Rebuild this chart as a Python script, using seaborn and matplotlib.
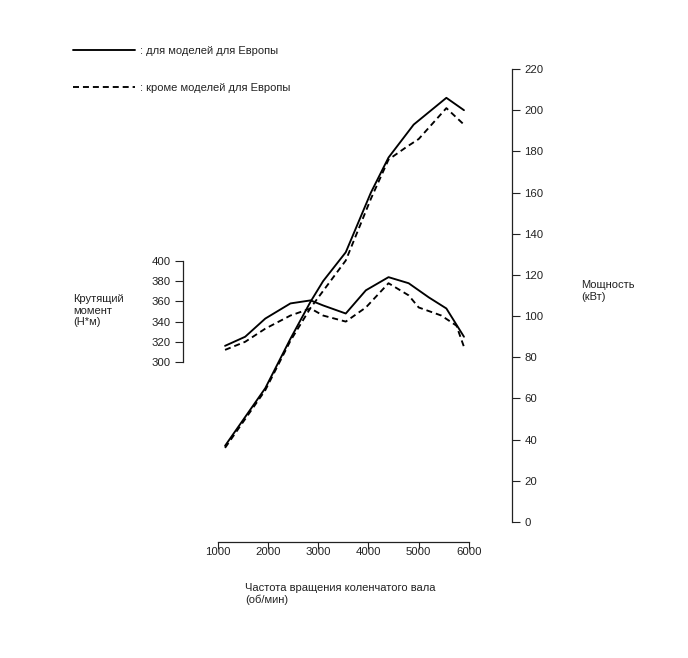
import matplotlib
matplotlib.use("Agg")
import matplotlib.pyplot as plt
import seaborn as sns
import pandas as pd

sns.set_theme(style="white")
plt.rcParams['font.family'] = ['Liberation Sans', 'DejaVu Sans']

# ---- data ----
torque_eu_rpm = [1150, 1550, 1950, 2450, 2850, 3100, 3550, 3950, 4400, 4800, 5200, 5550, 5900]
torque_eu_nm = [316, 325, 343, 358, 361, 356, 348, 371, 384, 378, 364, 353, 325]

torque_other_rpm = [1150, 1550, 1950, 2450, 2850, 3100, 3550, 3950, 4400, 4800, 5000, 5450, 5750, 5900]
torque_other_nm = [312, 320, 333, 346, 353, 346, 340, 354, 378, 366, 354, 346, 336, 315]

power_eu_rpm = [1150, 1950, 2450, 2850, 3100, 3550, 4050, 4400, 4900, 5550, 5900]
power_eu_kw = [37, 65, 89, 107, 117, 131, 160, 177, 193, 206, 200]

power_other_rpm = [1150, 1950, 2450, 2850, 3550, 4050, 4400, 4750, 5000, 5550, 5900]
power_other_kw = [36, 64, 88, 104, 127, 157, 176, 182, 186, 201, 193]

x_ticks = [1000, 2000, 3000, 4000, 5000, 6000]
torque_ticks = [300, 320, 340, 360, 380, 400]
power_ticks = [0, 20, 40, 60, 80, 100, 120, 140, 160, 180, 200, 220]

label_eu = ": для моделей для Европы"
label_other = ": кроме моделей для Европы"
torque_title = "Крутящий\nмомент\n(Н*м)"
power_title = "Мощность\n(кВт)"
x_title = "Частота вращения коленчатого вала\n(об/мин)"

# ---- figure ----
W, H = 688, 658
fig = plt.figure(figsize=(W / 100, H / 100), dpi=100)
fig.patch.set_facecolor("white")

left_px, right_px, top_px, bottom_px = 183, 512, 69, 542
ax = fig.add_axes([left_px / W, 1 - bottom_px / H,
                   (right_px - left_px) / W, (bottom_px - top_px) / H])
ax.set_facecolor("none")
ax2 = ax.twinx()
ax2.set_facecolor("none")

lw = 1.35
dash = (3.2, 2.1)

d1 = pd.DataFrame({"rpm": torque_eu_rpm, "val": torque_eu_nm})
d2 = pd.DataFrame({"rpm": torque_other_rpm, "val": torque_other_nm})
d3 = pd.DataFrame({"rpm": power_eu_rpm, "val": power_eu_kw})
d4 = pd.DataFrame({"rpm": power_other_rpm, "val": power_other_kw})

sns.lineplot(data=d1, x="rpm", y="val", ax=ax, color="black", lw=lw, legend=False)
sns.lineplot(data=d2, x="rpm", y="val", ax=ax, color="black", lw=lw,
             legend=False, linestyle=(0, dash))
sns.lineplot(data=d3, x="rpm", y="val", ax=ax2, color="black", lw=lw, legend=False)
sns.lineplot(data=d4, x="rpm", y="val", ax=ax2, color="black", lw=lw,
             legend=False, linestyle=(0, dash))

# x scale: 1000 rpm at 217.5 px, 6000 at 469 px
ppx = (469 - 217.5) / 5000.0
ax.set_xlim(1000 - (217.5 - left_px) / ppx, 1000 + (right_px - 217.5) / ppx)
# torque scale: 400 at 261, 300 at 362
ppt = (362 - 261) / 100.0
ax.set_ylim(400 - (bottom_px - 261) / ppt, 400 + (261 - top_px) / ppt)
# power scale: 220 at 69, 0 at 522
ppk = (522 - 69) / 220.0
ax2.set_ylim(0 - (bottom_px - 522) / ppk, 220 + (69 - top_px) / ppk)
ax2.set_xlim(ax.get_xlim())

spine_c = "#222222"
for s in ["top", "right"]:
    ax.spines[s].set_visible(False)
for s in ["top", "left", "bottom"]:
    ax2.spines[s].set_visible(False)
ax.spines["left"].set_bounds(300, 400)
ax.spines["bottom"].set_bounds(1000, 6000)
ax2.spines["right"].set_bounds(0, 220)
for sp in [ax.spines["left"], ax.spines["bottom"], ax2.spines["right"]]:
    sp.set_color(spine_c)
    sp.set_linewidth(0.9)

ax.set_xticks(x_ticks)
ax.set_xticklabels([str(v) for v in x_ticks])
ax.set_yticks(torque_ticks)
ax.set_yticklabels([str(v) for v in torque_ticks])
ax2.set_yticks(power_ticks)
ax2.set_yticklabels([str(v) for v in power_ticks])

fs_tick = 8.2
ax.tick_params(axis="x", direction="out", length=5, width=0.8, color=spine_c,
               pad=-1.5, labelsize=fs_tick, labelcolor="#222222", bottom=True)
ax.tick_params(axis="y", direction="out", length=5.8, width=0.8, color=spine_c,
               pad=3, labelsize=fs_tick, labelcolor="#222222", left=True)
ax2.tick_params(axis="y", direction="out", length=5.8, width=0.8, color=spine_c,
                pad=3, labelsize=fs_tick, labelcolor="#222222", right=True)
ax.set_xlabel("")
ax.set_ylabel("")
ax2.set_ylabel("")
ax.grid(False)
ax2.grid(False)

fs = 8
fig.text(73 / W, 1 - 294 / H, torque_title, ha="left", va="top", fontsize=fs,
         linespacing=1.2, color="#222222")
fig.text(581 / W, 1 - 280 / H, power_title, ha="left", va="top", fontsize=fs,
         linespacing=1.2, color="#222222")
fig.text(245 / W, 1 - 583 / H, x_title, ha="left", va="top", fontsize=fs,
         linespacing=1.2, color="#222222")

handles = [ax.lines[0], ax.lines[1]]
leg = fig.legend(handles, [label_eu, label_other], loc="upper left",
                 bbox_to_anchor=(73 / W, 1 - 46 / H), frameon=False,
                 borderpad=0, borderaxespad=0, handlelength=5.6,
                 labelspacing=2.45, handletextpad=0.4, fontsize=fs)
for t in leg.get_texts():
    t.set_color("#222222")

fig.savefig("out.png", dpi=100, facecolor="white")
